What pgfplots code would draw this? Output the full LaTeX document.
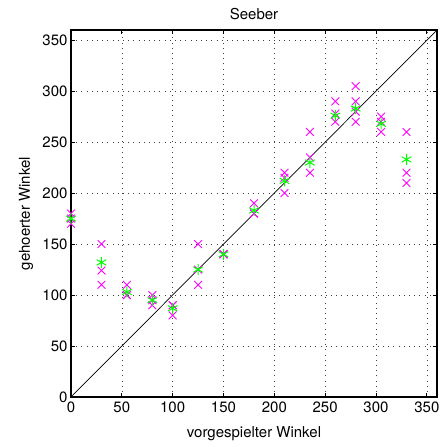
\documentclass[border=0pt]{standalone}
\usepackage{fontspec}
\setmainfont{TeX Gyre Heros}
\usepackage{pgfplots}
\pgfplotsset{compat=1.18}
\definecolor{mag}{rgb}{1,0,1}
\definecolor{grn}{rgb}{0,1,0}
\begin{document}
\begin{tikzpicture}
\useasboundingbox (-71pt,-50pt) rectangle (373pt,397pt);
\begin{axis}[
  at={(0,0)}, anchor=south west,
  scale only axis, width=366pt, height=367pt,
  xmin=0, xmax=360, ymin=0, ymax=360,
  xtick={0,50,...,350}, ytick={0,50,...,350},
  tick align=inside, tick pos=both, major tick length=4pt,
  grid=major,
  grid style={black!75, line width=0.5pt, dash pattern=on 0.8pt off 4.4pt},
  axis line style={line width=1.2pt},
  tick style={black, line width=0.8pt},
  /pgf/number format/assume math mode=true,
  ticklabel style={font=\fontsize{15}{17}\selectfont},
  xticklabel style={yshift=-1pt},
  title={Seeber},
  title style={font=\fontsize{15}{18}\selectfont, at={(axis description cs:0.5,1.028)}, anchor=center},
  xlabel={vorgespielter Winkel},
  ylabel={gehoerter Winkel},
  xlabel style={font=\fontsize{15}{18}\selectfont, at={(axis description cs:0.5,-0.1)}, anchor=center},
  ylabel style={font=\fontsize{15}{18}\selectfont, at={(axis description cs:-0.123,0.5)}, anchor=center},
  clip=false,
]
\addplot[black, line width=0.7pt] coordinates {(0,0) (360,360)};
\addplot[only marks, mark=x, mag, mark size=5.5pt, line width=0.9pt] coordinates {
(0,180) (0,175) (0,170)
(30,150) (30,124) (30,110)
(55,110) (55,100) (55,100)
(80,100) (80,95) (80,90)
(100,90) (100,90) (100,80)
(125,150) (125,125) (125,110)
(150,140) (150,140) (150,140)
(180,190) (180,180) (180,180)
(210,220) (210,215) (210,200)
(235,260) (235,235) (235,220)
(260,290) (260,278) (260,270)
(280,305) (280,290) (280,280) (280,270)
(305,275) (305,270) (305,260)
(330,260) (330,220) (330,210)
};
\addplot[only marks, mark=asterisk, grn, mark size=5.5pt, line width=1pt] coordinates {
(0,175) (30,132) (55,103) (80,95) (100,87) (125,125) (150,140)
(180,183) (210,212) (235,230) (260,276) (280,283) (305,268) (330,233)
};
\end{axis}
\end{tikzpicture}
\end{document}
